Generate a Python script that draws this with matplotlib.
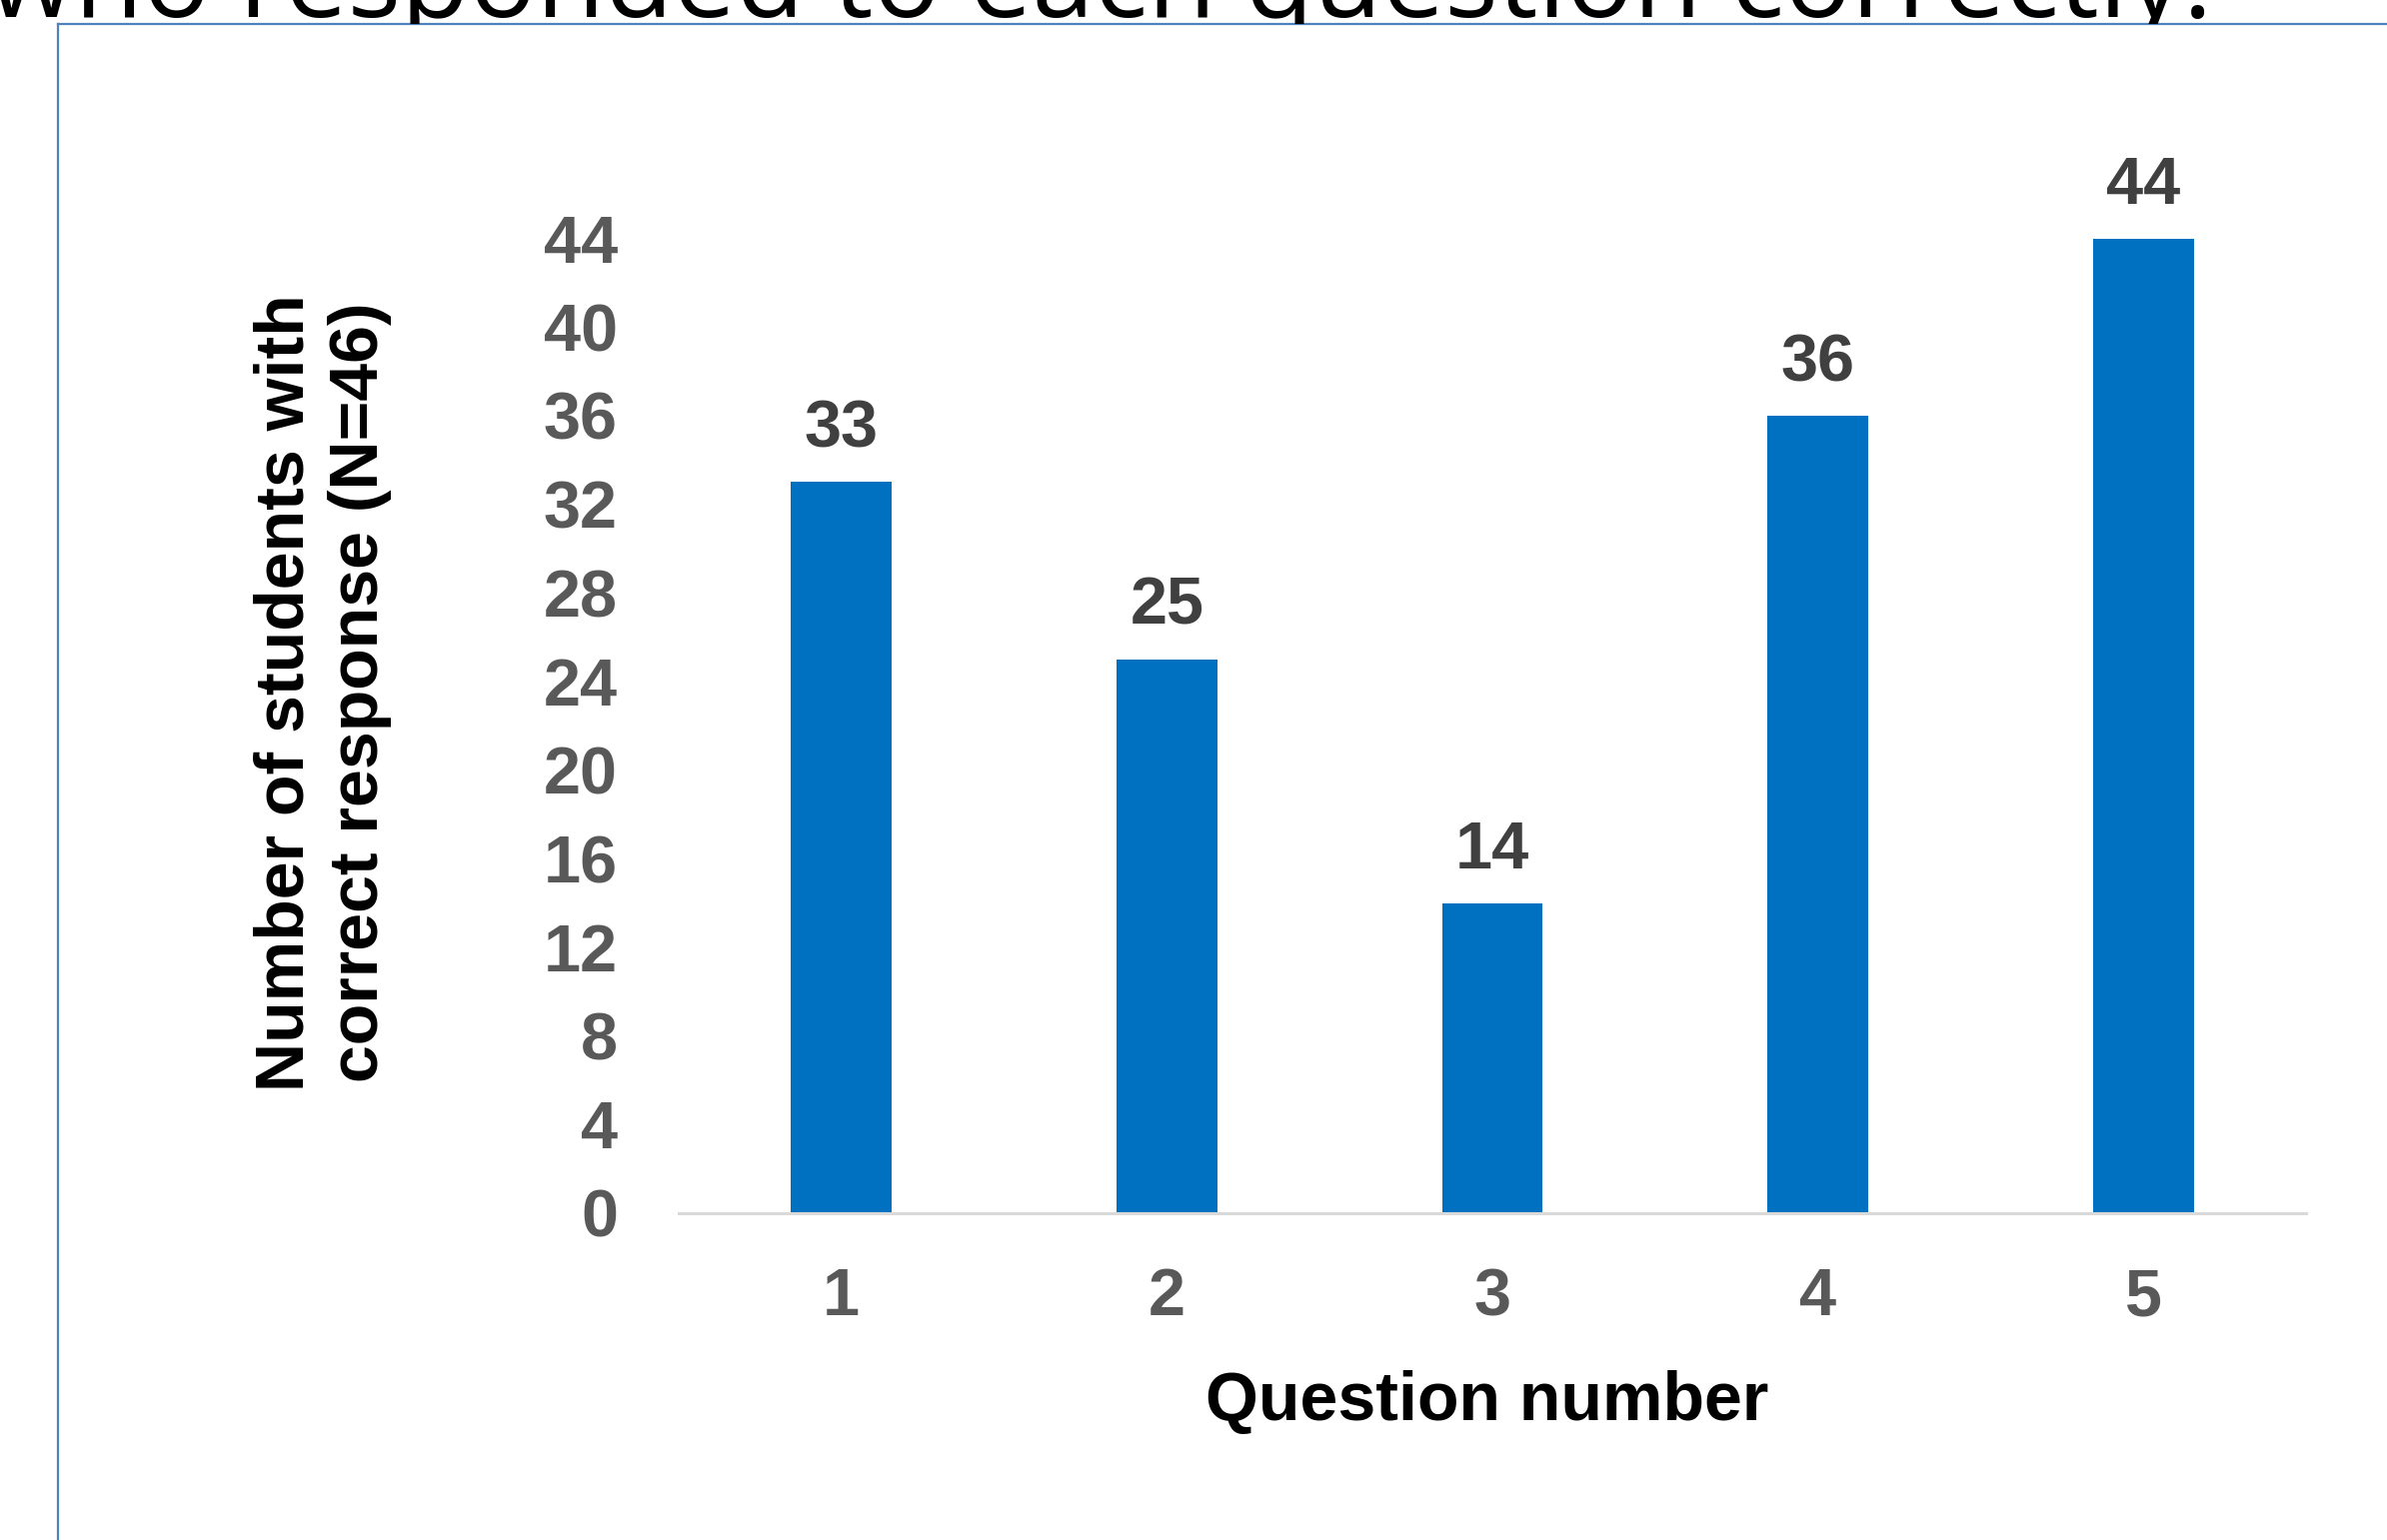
import matplotlib
matplotlib.use("Agg")
import matplotlib.pyplot as plt
from matplotlib.lines import Line2D
from matplotlib.patches import Rectangle

categories = ["1", "2", "3", "4", "5"]
values = [33, 25, 14, 36, 44]
yticks = [0, 4, 8, 12, 16, 20, 24, 28, 32, 36, 40, 44]
title_text = "who responded to each question correctly."
ylabel_text = "Number of students with\ncorrect response (N=46)"
xlabel_text = "Question number"

W, H, DPI = 2388, 1541, 100
fig = plt.figure(figsize=(W / DPI, H / DPI), dpi=DPI)
fig.patch.set_facecolor("white")

FONT = ["Liberation Sans", "DejaVu Sans"]
ax = fig.add_axes([679 / W, 1 - 1214 / H, (2307 - 679) / W, 0.6905])
x = list(range(1, len(categories) + 1))
bars = ax.bar(x, values, width=0.31, color="#0070C0", zorder=2)
ax.set_xlim(0.5, 5.5)
ax.set_ylim(0, 48)
ax.set_yticks(yticks)
ax.set_yticklabels([str(t) for t in yticks])
ax.set_xticks(x)
ax.set_xticklabels(categories)
for s in ["top", "right", "left"]:
    ax.spines[s].set_visible(False)
ax.spines["bottom"].set_color("#d9d9d9")
ax.spines["bottom"].set_linewidth(2.2)
ax.tick_params(axis="both", length=0)
ax.tick_params(axis="y", pad=44)
ax.tick_params(axis="x", pad=39)
for lab in ax.get_yticklabels() + ax.get_xticklabels():
    lab.set_fontfamily(FONT)
    lab.set_fontweight("bold")
    lab.set_fontsize(48)
    lab.set_color("#595959")

for xi, v in zip(x, values):
    ax.annotate(str(v), (xi, v), xytext=(0, 15), textcoords="offset points",
                ha="center", va="bottom", fontsize=48, fontweight="bold",
                color="#404040", family=FONT)

ax.set_xlabel(xlabel_text, fontsize=49, fontweight="bold", family=FONT,
              color="black", va="center")
ax.xaxis.set_label_coords(0.497, -0.178)
ax.set_ylabel(ylabel_text, fontsize=49, fontweight="bold", family=FONT,
              color="black", va="center", ha="center", multialignment="center",
              linespacing=1.2)
ax.yaxis.set_label_coords(-0.2187, 0.4897)

# frame lines from the slide
fig.add_artist(Line2D([58 / W, 1.0], [1 - 24 / H, 1 - 24 / H],
                      transform=fig.transFigure, color="#4f81bd", lw=1.6))
fig.add_artist(Line2D([58 / W, 58 / W], [1 - 24 / H, 0.0],
                      transform=fig.transFigure, color="#4f81bd", lw=1.6))

# partially visible slide title, clipped by the chart frame
t = fig.text(2213 / W, 1 - 17 / H, title_text, ha="right", va="baseline",
             fontsize=70, family=["Open Sans", "DejaVu Sans"], color="black")
clip = Rectangle((0, 1 - 24 / H), 1, 24 / H, transform=fig.transFigure,
                 facecolor="none", edgecolor="none")
fig.add_artist(clip)
t.set_clip_path(clip)
fig.canvas.draw()
r = fig.canvas.get_renderer()
w = t.get_window_extent(r).width
target = 2213 + 12
t.set_fontsize(70 * target / w)

fig.savefig("out.png", dpi=DPI, facecolor="white")
